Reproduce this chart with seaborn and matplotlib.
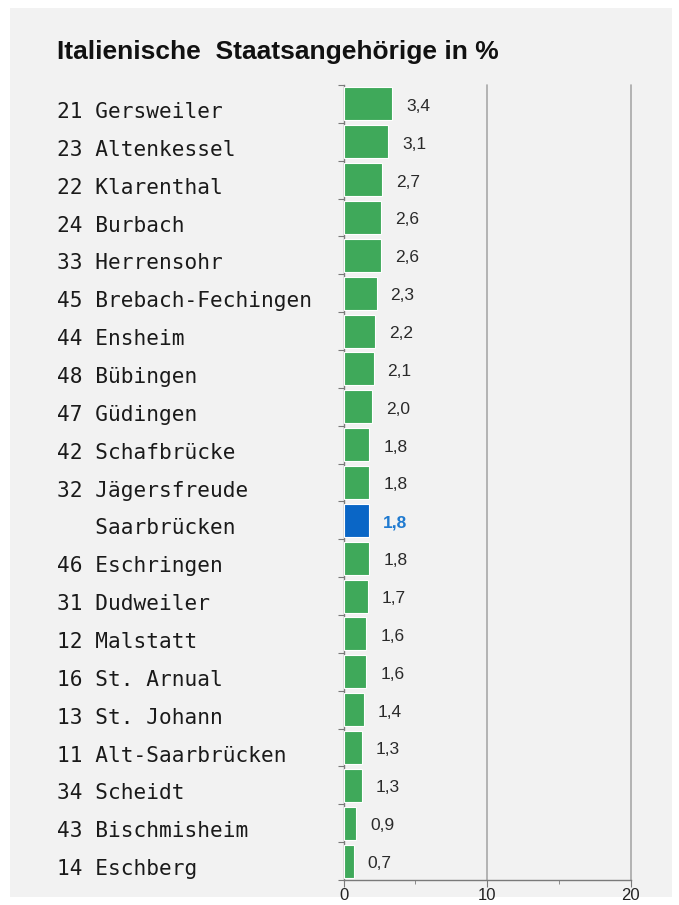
import matplotlib
matplotlib.use('Agg')
import matplotlib.pyplot as plt
import matplotlib.transforms as mtransforms
from matplotlib.patches import Rectangle
import seaborn as sns
import pandas as pd
import numpy as np

# Daten (von oben nach unten)
stadtteile = ['21 Gersweiler', '23 Altenkessel', '22 Klarenthal', '24 Burbach',
              '33 Herrensohr', '45 Brebach-Fechingen', '44 Ensheim', '48 Bübingen',
              '47 Güdingen', '42 Schafbrücke', '32 Jägersfreude', '   Saarbrücken',
              '46 Eschringen', '31 Dudweiler', '12 Malstatt', '16 St. Arnual',
              '13 St. Johann', '11 Alt-Saarbrücken', '34 Scheidt', '43 Bischmisheim',
              '14 Eschberg']
anteil = [3.4, 3.1, 2.7, 2.6, 2.6, 2.3, 2.2, 2.1, 2.0, 1.8, 1.8, 1.8,
          1.8, 1.7, 1.6, 1.6, 1.4, 1.3, 1.3, 0.9, 0.7]
x_ticks = [0, 10, 20]

gruen = '#3fa95a'
blau = '#0a66c6'
hintergrund = '#f2f2f2'

df = pd.DataFrame({'stadtteil': stadtteile, 'anteil': anteil})
farben = {s: (blau if 'Saarbrücken' == s.strip() else gruen) for s in stadtteile}

sns.set_style('white')
fig = plt.figure(figsize=(6.79, 9.05), dpi=100)
fig.patch.set_facecolor('white')
# grauer Kasten um die Grafik
fig.patches.append(Rectangle((10 / 679, 1 - 897 / 905), 662 / 679, 889 / 905,
                             transform=fig.transFigure, facecolor=hintergrund,
                             edgecolor='none', zorder=-5))

ax = fig.add_axes([343.5 / 679, 1 - 880 / 905, 287 / 679, 795 / 905])
ax.set_facecolor(hintergrund)

sns.barplot(data=df, x='anteil', y='stadtteil', hue='stadtteil', palette=farben,
            order=stadtteile, legend=False, width=0.87, edgecolor='white',
            linewidth=0.8, saturation=1, ax=ax, zorder=3)

ax.set_xlim(0, 20)
ax.set_ylim(len(stadtteile) - 0.5, -0.5)
ax.set_xlabel('')
ax.set_ylabel('')

# Gitterlinien bei 10 und 20
for x in x_ticks[1:]:
    ax.axvline(x, color='#a8a8a8', linewidth=1.2, zorder=1, clip_on=False)

for s in ['top', 'right']:
    ax.spines[s].set_visible(False)
for s in ['left', 'bottom']:
    ax.spines[s].set_color('#7a7a7a')
    ax.spines[s].set_linewidth(1.0)

ax.set_xticks(x_ticks)
ax.set_xticklabels([str(v) for v in x_ticks], fontsize=12, color='#222222',
                   family='Liberation Sans')
ax.set_xticks([5, 15], minor=True)
ax.tick_params(axis='x', which='major', length=5, color='#7a7a7a', pad=1, bottom=True)
ax.tick_params(axis='x', which='minor', length=3, color='#7a7a7a', bottom=True)

ax.set_yticks(np.arange(-0.5, len(stadtteile), 1.0))
ax.set_yticklabels([])
ax.tick_params(axis='y', which='major', length=4, color='#7a7a7a', left=True)

# Beschriftungen links, linksbündig (etwas unterhalb der Balkenmitte)
trans = mtransforms.blended_transform_factory(fig.transFigure, ax.transData)
trans = mtransforms.offset_copy(trans, fig=fig, y=-14, units='dots')
for i, s in enumerate(stadtteile):
    ax.text(57 / 679, i, s, transform=trans, ha='left', va='baseline',
            fontsize=15.2, family='DejaVu Sans Mono', color='#1a1a1a')

# Werte an den Balken
for i, (s, v) in enumerate(zip(stadtteile, anteil)):
    ist_stadt = s.strip() == 'Saarbrücken'
    ax.annotate(f'{v:.1f}'.replace('.', ','), xy=(v, i), xytext=(10, -5),
                textcoords='offset points', ha='left', va='baseline',
                fontsize=12.5, family='Liberation Sans',
                fontweight='bold' if ist_stadt else 'normal',
                color='#1f7ad0' if ist_stadt else '#2a2a2a')

fig.text(57 / 679, 1 - 59 / 905, 'Italienische  Staatsangehörige in %',
         ha='left', va='baseline', fontsize=19, fontweight='bold',
         family='Liberation Sans', color='#111111')

fig.savefig('out.png', dpi=100)
